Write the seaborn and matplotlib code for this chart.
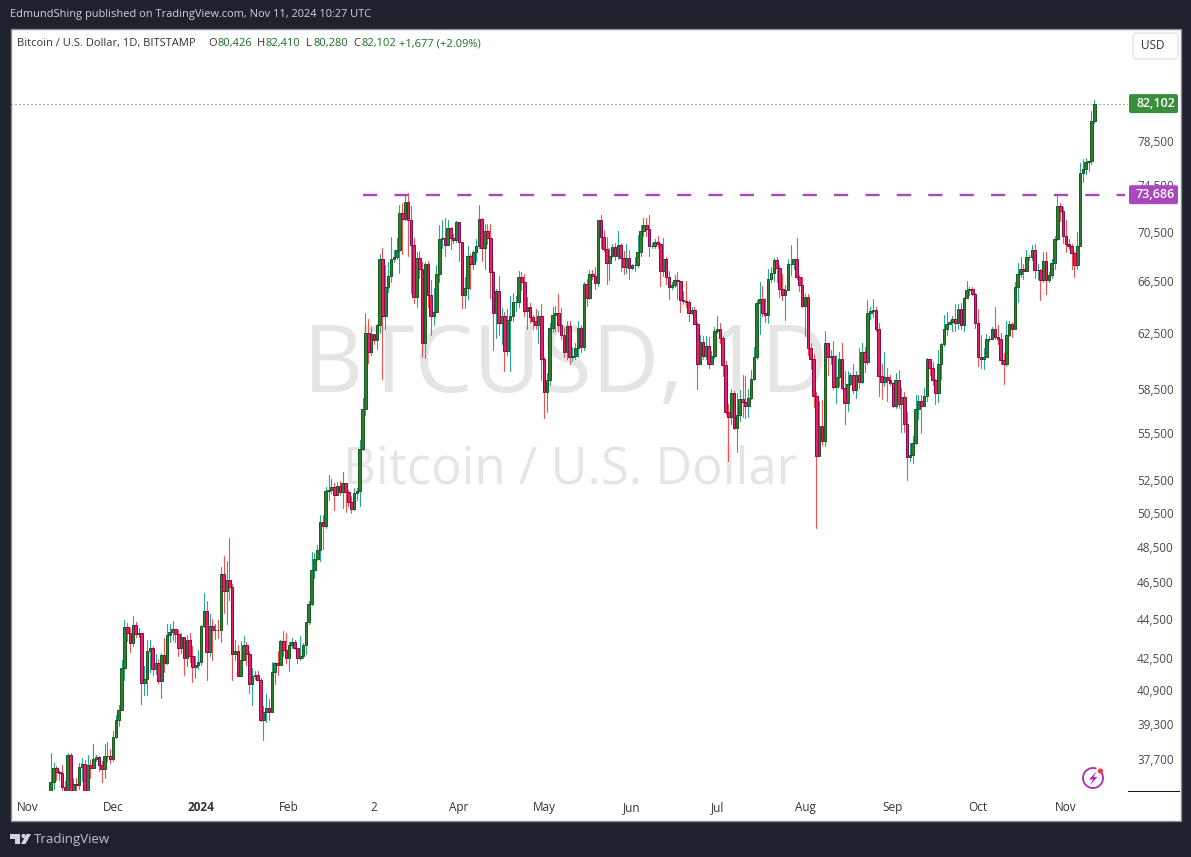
import matplotlib
matplotlib.use("Agg")
import matplotlib.pyplot as plt
import seaborn as sns
import pandas as pd
from matplotlib.patches import Arc, Circle, FancyBboxPatch, Polygon, Rectangle
from matplotlib.ticker import NullLocator
from matplotlib.transforms import IdentityTransform

# daily candles, one line per month (9 Nov 2023 - 11 Nov 2024)
opens = [
    35640,36700,37310,37130,37060,36460,35550,37870,36160,36590,36570,37360,37470,35770,37410,37290,37720,37790,37450,37240,37820,37850,
    37720,38690,39470,39970,41990,44080,43770,43290,44180,43720,43790,41240,41480,42880,43020,41930,42270,41370,42660,42270,43660,43860,43990,43730,43010,43590,42520,43440,42580,42070,42140,
    42280,44150,44940,42810,44150,43950,43950,43930,46960,46030,46630,46260,42700,42840,41620,42420,43190,42700,41230,41600,41650,41430,39500,39850,40060,39880,41800,42260,42130,43370,42930,
    42510,43150,43320,43000,42510,42610,43190,44350,45300,47170,47800,48300,49930,49700,51830,51900,52100,51580,52150,51750,52300,51750,51170,50750,51700,51800,54500,57100,62500,
    61150,62420,62000,63150,68300,63800,66070,66900,68300,68450,69000,72100,71600,73050,71500,69450,65250,68350,67500,61800,67900,65400,63800,64100,67100,69900,70000,69450,70800,69980,69800,
    71300,69700,65400,65950,68500,67900,68850,69350,71600,69150,70600,70000,67250,64050,65700,63300,63800,61200,63500,63800,64900,64900,66850,66400,64200,64450,63750,63450,63100,63800,
    60650,58300,59100,62860,63850,64000,63100,62350,61150,63050,60800,60820,61430,62860,61500,66250,65200,67050,66900,66350,71500,70100,69050,67950,68500,69250,68500,69400,68350,67600,68370,
    67530,67750,67750,68800,70550,71050,70750,69350,69350,69650,69500,67300,68300,66800,66000,66200,66600,66500,65000,64950,64850,64050,64250,63200,60300,61850,60850,61600,60300,60850,
    62700,62850,62150,60200,56950,56600,58250,55850,56700,57800,57600,57350,57900,59200,60800,64800,65100,64000,63900,66650,67150,68150,67550,65900,65400,65800,67900,67900,68250,66800,66200,
    64600,65250,61400,60600,58000,54000,56000,55000,61750,60800,60820,58650,59350,60600,58600,57550,58850,59500,58400,59500,59000,61150,60400,64050,64150,64250,62850,59400,59000,59350,59100,
    58950,57300,59100,57450,57950,56120,53950,54100,54900,57100,57650,57350,58050,60600,60000,59150,58200,60300,61700,62850,63200,63350,63550,63300,64300,63100,65150,65800,65850,65500,
    63300,60800,60650,60750,62100,62100,62850,62250,62100,60550,60300,62400,63200,62800,66050,67050,67500,67300,68450,68400,69000,67350,67350,66550,68100,66600,66950,67950,69900,72700,72300,
    70200,69500,69300,68750,67800,69350,75600,75950,76600,76700,80426,
]
highs = [
    37950,37520,37400,37220,37420,36740,37960,37990,36850,36840,37500,37740,37650,37860,37650,38400,37900,37830,37600,38380,38450,38140,
    38990,39700,40200,42420,44480,44300,44040,44700,44370,44040,43800,42100,43430,43420,43090,42700,42430,42740,43500,44280,44240,44390,43990,43940,43790,43600,43680,43800,43120,42600,42890,
    44190,45900,45470,44800,44500,44250,44490,47370,47950,47670,49000,46400,43400,43150,43370,43650,43300,42870,42000,41870,41850,41500,40150,40720,40480,42290,42290,42850,43430,43900,43780,
    43330,43500,43400,43000,43630,43250,44350,45500,48180,48150,48600,50350,50400,52050,52840,52550,52300,52400,52450,52980,52300,51900,51550,52000,52000,55050,57870,64000,63550,
    63000,62420,63230,68650,69150,67800,68000,70100,69000,70000,72750,73000,73760,73800,72700,70000,68800,68900,68000,68000,68100,66600,65950,67800,71100,71500,71700,71500,70900,70300,71380,
    71350,69700,66800,69300,68700,69000,69900,72800,71700,71200,71200,71200,67300,65900,66900,64400,64100,64350,65350,65600,65300,67300,67250,67100,65250,64800,63900,64300,64200,64700,
    60750,59600,63300,64500,64600,65500,64400,63000,63400,63450,61500,61800,63450,63100,66450,66700,67400,67400,67650,71500,71900,70650,70050,69200,69500,69600,70600,69550,68900,69500,69000,
    67850,68400,70250,71050,71700,71650,71950,69600,69950,70150,69550,70000,68450,67300,66400,66950,67200,66100,65700,66500,65050,64500,64500,63350,62400,62300,62300,62200,61200,63000,
    63800,63300,62300,60450,57500,58500,58350,58200,58400,59450,59400,58500,59850,61500,65000,66450,66100,65150,67450,67650,68350,68400,67800,67100,66200,68300,69400,68300,70000,67000,66800,
    65500,65450,61800,61000,58300,57700,57750,62700,61700,61250,61900,60900,61100,61800,59800,59800,59600,60250,59800,61400,61800,61500,65000,64500,65100,64500,63300,60250,61150,60000,59450,
    59000,59600,59850,58550,58300,56950,54900,55300,58100,58100,58100,58550,60700,60650,60400,59200,61300,61800,63900,64100,63500,63800,64700,64750,64800,65250,66500,66000,66000,65600,
    64300,62350,61400,62450,62300,63000,64500,63150,62500,61050,63450,63450,63350,66450,67950,68400,67900,69000,68600,69400,69500,67900,67450,68800,68800,67200,68250,70200,73600,72950,72600,
    71500,69950,69500,68800,70500,76500,76900,77000,76700,81400,82410,
]
lows = [
    35600,36360,36760,36750,36340,35130,35350,35530,35870,36200,36390,36730,35730,35660,36880,37280,37600,37150,36700,36880,37600,37500,
    37620,38650,39200,39970,41420,43350,42830,43090,43580,43590,40240,40700,40700,41800,41650,41700,41250,40530,41800,42180,43300,43420,43320,42580,42750,41650,42100,42290,41300,41520,41970,
    42150,44100,41400,42600,42400,43450,43500,43320,44820,44250,45540,41430,42400,41600,41620,42400,42170,40770,40220,41450,41400,39420,38540,39400,39500,39880,41200,41650,42140,42600,42240,
    41850,43000,42950,42250,42380,42500,42700,44250,45250,46750,47750,47700,48350,49600,51300,51700,50700,51600,51600,50800,50570,50900,50500,50700,51300,50900,54400,56750,60350,
    60900,61700,61340,62500,59200,62800,65650,66400,68000,68300,67170,68700,71500,68500,65550,64800,64450,66750,60800,60700,64450,62350,63100,64100,66400,69200,68500,69400,69100,69600,69700,
    68100,64400,64400,65100,65900,67500,68100,69150,68100,67500,69500,65200,61250,62150,62400,61700,59800,60900,59800,63400,64200,64450,65800,63800,62800,63300,62800,62800,61800,59100,
    56550,56900,58800,62600,62700,62700,62100,60800,60600,60250,60450,60600,60750,61100,61300,64600,65100,66650,65850,66100,69200,68900,66300,66600,68450,68200,68250,67300,67100,67150,66650,
    67450,67300,67600,68500,70200,70200,68500,69200,69150,69200,66100,66900,66300,65100,65900,66000,65100,64100,64700,64500,63400,63950,63200,58500,60300,60600,60600,60000,60350,60700,
    62500,61800,59400,56800,53700,56100,55800,54300,56300,56600,56500,56600,57800,59100,60600,62450,63800,63350,63300,66400,66500,66400,65250,65050,63500,65800,67000,67500,66650,65750,64500,
    62300,60900,59900,57250,49600,54700,54750,54650,59450,60300,58500,57550,58700,58500,56150,57000,58800,58250,57850,58600,58900,59700,60300,63600,63700,62700,58050,57800,58700,57650,58800,
    57250,57200,57200,55600,55600,52500,53700,53600,54800,56450,55550,57400,57650,59450,58750,57500,57600,59200,61600,62400,63200,62650,62700,62800,62800,62700,65200,65400,65400,62900,
    60120,60000,59900,60750,61900,62100,62100,61700,60300,58850,60100,62300,62200,62800,64900,66850,66700,67300,68200,68150,66750,66650,65000,66400,65500,66400,66750,67500,69850,71400,69600,
    68850,69100,67500,66800,67500,69400,74800,75550,75800,76400,80280,
]
closes = [
    36700,37310,37130,37060,36460,35550,37870,36160,36590,36570,37360,37470,35770,37410,37290,37720,37790,37450,37240,37820,37850,37720,
    38690,39470,39970,41990,44080,43770,43290,44180,43720,43790,41240,41480,42880,43020,41930,42270,41370,42660,42270,43660,43860,43990,43730,43010,43590,42520,43440,42580,42070,42140,42280,
    44150,44940,42810,44150,43950,43950,43930,46960,46030,46630,46260,42700,42840,41620,42420,43190,42700,41230,41600,41650,41430,39500,39850,40060,39880,41800,42260,42130,43370,42930,42510,
    43150,43320,43000,42510,42610,43190,44350,45300,47170,47800,48300,49930,49700,51830,51900,52100,51580,52150,51750,52300,51750,51170,50750,51700,51800,54500,57100,62500,61150,
    62420,62000,63150,68300,63800,66070,66900,68300,68450,69000,72100,71600,73050,71500,69450,65250,68350,67500,61800,67900,65400,63800,64100,67100,69900,70000,69450,70800,69980,69800,71300,
    69700,65400,65950,68500,67900,68850,69350,71600,69150,70600,70000,67250,64050,65700,63300,63800,61200,63500,63800,64900,64900,66850,66400,64200,64450,63750,63450,63100,63800,60650,
    58300,59100,62860,63850,64000,63100,62350,61150,63050,60800,60820,61430,62860,61500,66250,65200,67050,66900,66350,71500,70100,69050,67950,68500,69250,68500,69400,68350,67600,68370,67530,
    67750,67750,68800,70550,71050,70750,69350,69350,69650,69500,67300,68300,66800,66000,66200,66600,66500,65000,64950,64850,64050,64250,63200,60300,61850,60850,61600,60300,60850,62700,
    62850,62150,60200,56950,56600,58250,55850,56700,57800,57600,57350,57900,59200,60800,64800,65100,64000,63900,66650,67150,68150,67550,65900,65400,65800,67900,67900,68250,66800,66200,64600,
    65250,61400,60600,58000,54000,56000,55000,61750,60800,60820,58650,59350,60600,58600,57550,58850,59500,58400,59500,59000,61150,60400,64050,64150,64250,62850,59400,59000,59350,59100,58950,
    57300,59100,57450,57950,56120,53950,54100,54900,57100,57650,57350,58050,60600,60000,59150,58200,60300,61700,62850,63200,63350,63550,63300,64300,63100,65150,65800,65850,65500,63300,
    60800,60650,60750,62100,62100,62850,62250,62100,60550,60300,62400,63200,62800,66050,67050,67500,67300,68450,68400,69000,67350,67350,66550,68100,66600,66950,67950,69900,72700,72300,70200,
    69500,69300,68750,67800,69350,75600,75950,76600,76700,80426,82102,
]

price_ticks = [37700, 39300, 40900, 42500, 44500, 46500, 48500, 50500, 52500, 55500, 58500, 62500, 66500, 70500, 74500, 78500]
time_ticks = ["2023-11-01", "2023-12-01", "2024-01-01", "2024-02-01", "2024-03-02", "2024-04-01", "2024-05-01",
              "2024-06-01", "2024-07-01", "2024-08-01", "2024-09-01", "2024-10-01", "2024-11-01"]
time_labels = ["Nov", "Dec", "2024", "Feb", "2", "Apr", "May", "Jun", "Jul", "Aug", "Sep", "Oct", "Nov"]
last_price = 82102
resistance = 73686

W, H = 1191, 857
PANEL = "#1e222d"
UP_FILL, UP_EDGE, UP_WICK = "#2e7d32", "#1b5e20", "#26a69a"
DOWN_FILL, DOWN_EDGE, DOWN_WICK = "#e91e63", "#880e4f", "#ef5350"
PURPLE = "#ab47bc"
TAG_GREEN = "#388e3c"
TITLE_GREEN = "#1b6e24"

sns.set_theme(style="white")
plt.rcParams["font.family"] = ["Open Sans", "DejaVu Sans"]

candles = pd.DataFrame({"open": opens, "high": highs, "low": lows, "close": closes},
                       index=pd.date_range("2023-11-09", periods=len(closes), freq="D"))
candles.index.name = "date"
candles["up"] = candles["close"] >= candles["open"]
wicks = candles.reset_index().melt(id_vars=["date", "up"], value_vars=["high", "low"], value_name="price")

fig = plt.figure(figsize=(W / 100, H / 100), dpi=100, facecolor=PANEL)
ax = fig.add_axes([11 / W, (H - 791) / H, (1128 - 11) / W, (791 - 29) / H], facecolor="none")


def box(x0, y0, x1, y1, **kw):
    # rectangle given in picture pixels, y downwards
    return Rectangle((x0, H - y1), x1 - x0, y1 - y0, transform=IdentityTransform(), **kw)


fig.add_artist(box(10.5, 28.5, 1180.5, 820.5, facecolor="white", edgecolor="#8a8d96", linewidth=1, zorder=-5))

# watermark
ax.text(566, H - 367, "BTCUSD, 1D", transform=IdentityTransform(), ha="center", va="center",
        fontsize=67, color="#e5e5e5", zorder=0)
ax.text(570, H - 470, "Bitcoin / U.S. Dollar", transform=IdentityTransform(), ha="center", va="center",
        fontsize=36.5, color="#e5e5e5", zorder=0)

sns.lineplot(data=wicks, x="date", y="price", units="date", estimator=None, hue="up",
             palette={True: UP_WICK, False: DOWN_WICK}, linewidth=0.8, legend=False, ax=ax, zorder=2)
for up, fill, edge in [(True, UP_FILL, UP_EDGE), (False, DOWN_FILL, DOWN_EDGE)]:
    part = candles[candles["up"] == up]
    lower = part[["open", "close"]].min(axis=1)
    upper = part[["open", "close"]].max(axis=1)
    ax.bar(part.index, upper - lower, bottom=lower, width=0.92, facecolor=fill, edgecolor=edge,
           linewidth=0.72, zorder=3)

ax.set_yscale("log")
ax.set_ylim(36294, 89710)
ax.set_xlim(pd.Timestamp("2023-11-01") - pd.Timedelta(days=6), pd.Timestamp("2023-11-01") + pd.Timedelta(days=387.9))

ax.axhline(last_price, color="#2e7d32", linewidth=0.72, linestyle=(0, (1, 3)), zorder=1)
ax.plot([pd.Timestamp("2024-02-27"), pd.Timestamp("2024-11-22")], [resistance, resistance], color=PURPLE,
        linewidth=1.7, linestyle=(0, (6, 7.3)), zorder=4, dash_capstyle="butt")

ax.yaxis.tick_right()
ax.set_yticks(price_ticks, [f"{p:,}" for p in price_ticks])
ax.yaxis.set_minor_locator(NullLocator())
ax.set_xticks(pd.to_datetime(time_ticks), time_labels)
ax.tick_params(axis="y", length=0, pad=6.5, labelsize=8.5, labelcolor="#4a4a4a")
ax.tick_params(axis="x", length=0, pad=14.2, labelsize=8.5, labelcolor="#333333")
for label in ax.get_xticklabels():
    label.set_verticalalignment("baseline")
    if label.get_text() == "2024":
        label.set_fontweight("bold")
ax.set_xlabel("")
ax.set_ylabel("")
sns.despine(ax=ax, left=True, bottom=True, top=True, right=True)

# bottom edge of the price scale
fig.add_artist(box(1128, 791, 1180, 792, facecolor="#131722", edgecolor="none", zorder=3))

# price tags on the scale
fig.canvas.draw()
for value, colour in [(last_price, TAG_GREEN), (resistance, PURPLE)]:
    y_mid = H - ax.transData.transform((0, value))[1]
    fig.add_artist(FancyBboxPatch((1129, H - y_mid - 9.5), 49, 19, boxstyle="round,pad=0,rounding_size=2",
                                  transform=IdentityTransform(), facecolor=colour, edgecolor="none", zorder=5))
    fig.text(1155.5 / W, 1 - y_mid / H, f"{value:,}", ha="center", va="center", fontsize=9, color="white",
             fontweight="semibold", zorder=6)

# USD button
fig.add_artist(FancyBboxPatch((1133, H - 59), 45, 26, boxstyle="round,pad=0,rounding_size=4",
                              transform=IdentityTransform(), facecolor="white", edgecolor="#e0e3eb", linewidth=1,
                              zorder=5))
fig.text(1153 / W, 1 - 45.5 / H, "USD", ha="center", va="center", fontsize=8.5, color="#333333", zorder=6)

# header lines
fig.text(10 / W, 1 - 15 / H, "EdmundShing published on TradingView.com, Nov 11, 2024 10:27 UTC",
         ha="left", va="center", fontsize=7.95, color="#d1d4dc")
legend_parts = [(17, "Bitcoin / U.S. Dollar, 1D, BITSTAMP", "#333333"),
                (208, "O", "#333333"), (217, "80,426", TITLE_GREEN),
                (257, "H", "#333333"), (266, "82,410", TITLE_GREEN),
                (306, "L", "#333333"), (314, "80,280", TITLE_GREEN),
                (353, "C", "#333333"), (362, "82,102", TITLE_GREEN),
                (399, "+1,677 (+2.09%)", TITLE_GREEN)]
for x_pos, text, colour in legend_parts:
    fig.text(x_pos / W, 1 - 43.5 / H, text, ha="left", va="center", fontsize=8, color=colour, zorder=6)

# TradingView mark in the footer
logo = "#d1d4dc"
fig.add_artist(Polygon([(10, H - 834), (20, H - 834), (20, H - 844), (15, H - 844), (15, H - 839), (10, H - 839)],
                       transform=IdentityTransform(), facecolor=logo, edgecolor="none"))
fig.add_artist(Circle((23.5, H - 836), 2.1, transform=IdentityTransform(), facecolor=logo, edgecolor="none"))
fig.add_artist(Polygon([(26.5, H - 834), (31, H - 834), (25.5, H - 844), (21, H - 844)],
                       transform=IdentityTransform(), facecolor=logo, edgecolor="none"))
fig.text(34 / W, 1 - 839.5 / H, "TradingView", ha="left", va="center", fontsize=9.5, color="#c3c6ce")

# snapshot badge, lower right
fig.add_artist(Arc((1093, H - 778), 20, 20, theta1=70, theta2=30, transform=IdentityTransform(), edgecolor="#a828c0",
                   linewidth=1.3, zorder=5))
fig.add_artist(Polygon([(1097, H - 771), (1089, H - 779.5), (1093, H - 779.5), (1090, H - 785), (1097.5, H - 777),
                        (1093.5, H - 777)], transform=IdentityTransform(), facecolor="#a828c0", edgecolor="none",
                       zorder=5))
fig.add_artist(Circle((1100.5, H - 771), 2.6, transform=IdentityTransform(), facecolor="#f23645", edgecolor="none",
                      zorder=6))

fig.savefig("out.png", dpi=100, facecolor=PANEL)
